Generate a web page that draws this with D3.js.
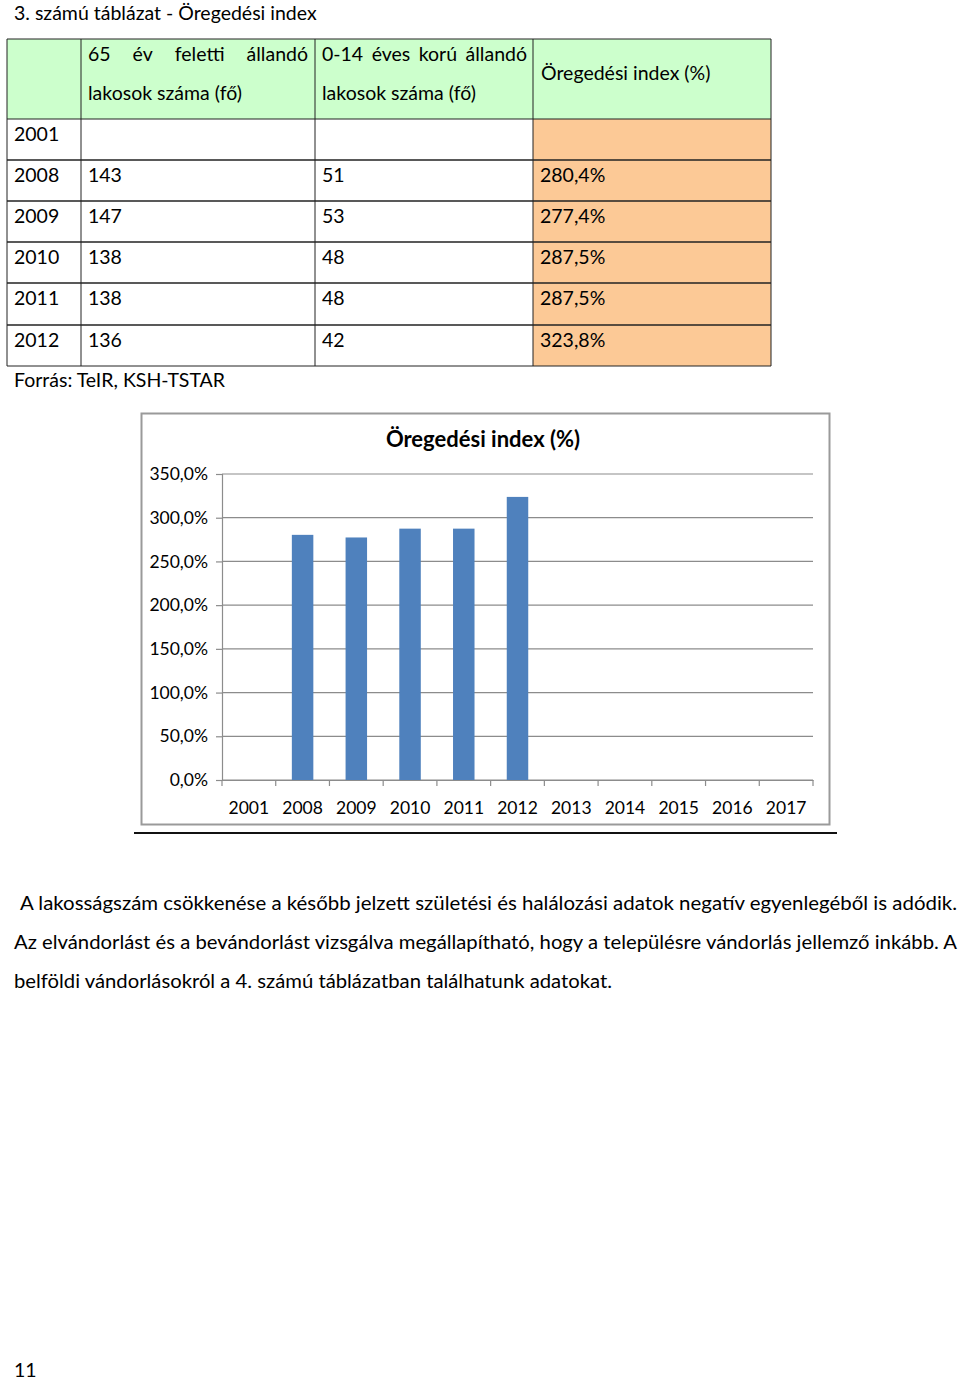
<!doctype html>
<html>
<head>
<meta charset="utf-8">
<style>
  body { margin: 0; background: #fff; }
  svg text { font-family: Lato, "Open Sans", sans-serif; fill: #000; }
</style>
<script src="https://d3js.org/d3.v7.min.js"></script>
</head>
<body>
<svg width="960" height="1381"></svg>
<script>
// table data
var tableYears = ["2001", "2008", "2009", "2010", "2011", "2012"];
var over65 = ["", "143", "147", "138", "138", "136"];
var under14 = ["", "51", "53", "48", "48", "42"];
var indexText = ["", "280,4%", "277,4%", "287,5%", "287,5%", "323,8%"];

// chart data
var chartYears = ["2001","2008","2009","2010","2011","2012","2013","2014","2015","2016","2017"];
var chartValues = [null, 280.4, 277.4, 287.5, 287.5, 323.8, null, null, null, null, null];
var yTicks = [0, 50, 100, 150, 200, 250, 300, 350];

var svg = d3.select("svg");
var fs = "19.5px";

svg.append("text").attr("x", 14).attr("y", 20).attr("font-size", fs)
   .text("3. számú táblázat - Öregedési index");

// justify words between x0 and x1
function justified(parent, str, x0, x1, yy) {
  var words = str.split(" ");
  var nodes = words.map(function(w) {
    return parent.append("text").attr("y", yy).attr("font-size", fs).text(w);
  });
  var widths = nodes.map(function(n) { return n.node().getComputedTextLength(); });
  var gap = (x1 - x0 - d3.sum(widths)) / (words.length - 1);
  var cx = x0;
  nodes.forEach(function(n, i) { n.attr("x", cx); cx += widths[i] + gap; });
}

// ---- table ----
var colX = [7, 81, 315, 533, 771];
var rowY = [39, 119, 160, 201, 242, 283, 325, 366];
var tbl = svg.append("g");

tbl.append("rect").attr("x", colX[0]).attr("y", rowY[0])
   .attr("width", colX[4] - colX[0]).attr("height", rowY[1] - rowY[0]).attr("fill", "#ccffcc");
tbl.append("rect").attr("x", colX[3]).attr("y", rowY[1])
   .attr("width", colX[4] - colX[3]).attr("height", rowY[7] - rowY[1]).attr("fill", "#fcc996");

rowY.forEach(function(y, i) {
  tbl.append("line").attr("x1", colX[0]).attr("x2", colX[4]).attr("y1", y).attr("y2", y)
     .attr("stroke", "#222").attr("stroke-width", (i > 1 && i < 7) ? 1.6 : 1);
});
colX.forEach(function(x) {
  tbl.append("line").attr("x1", x).attr("x2", x).attr("y1", rowY[0]).attr("y2", rowY[7])
     .attr("stroke", "#222").attr("stroke-width", 1);
});

justified(tbl, "65 év feletti állandó", 88, 308, 61);
tbl.append("text").attr("x", 88).attr("y", 100).attr("font-size", fs).text("lakosok száma (fő)");
justified(tbl, "0-14 éves korú állandó", 322, 527, 61);
tbl.append("text").attr("x", 322).attr("y", 100).attr("font-size", fs).text("lakosok száma (fő)");
tbl.append("text").attr("x", 541).attr("y", 80).attr("font-size", fs).text("Öregedési index (%)");

tableYears.forEach(function(yr, i) {
  var by = rowY[i + 1] + 22;
  [yr, over65[i], under14[i], indexText[i]].forEach(function(t, c) {
    tbl.append("text").attr("x", colX[c] + 7).attr("y", by).attr("font-size", fs).text(t);
  });
});

svg.append("text").attr("x", 14).attr("y", 387).attr("font-size", fs)
   .text("Forrás: TeIR, KSH-TSTAR");

// ---- chart ----
svg.append("rect").attr("x", 141.5).attr("y", 413.5).attr("width", 688).attr("height", 411)
   .attr("fill", "#fff").attr("stroke", "#9a9a9a").attr("stroke-width", 2);
svg.append("line").attr("x1", 134).attr("x2", 837).attr("y1", 833).attr("y2", 833)
   .attr("stroke", "#111").attr("stroke-width", 2);

svg.append("text").attr("x", 483).attr("y", 447).attr("text-anchor", "middle")
   .attr("font-size", "22px").attr("font-weight", "bold").text("Öregedési index (%)");

var x = d3.scaleBand().domain(chartYears).range([222, 813]).paddingInner(0.6).paddingOuter(0.3);
var y = d3.scaleLinear().domain([0, 350]).range([780, 474]);
var step = x.step();

var g = svg.append("g");

g.selectAll(".grid").data(yTicks).enter().append("line")
 .attr("x1", 222).attr("x2", 813)
 .attr("y1", function(d) { return y(d); }).attr("y2", function(d) { return y(d); })
 .attr("stroke", "#8c8c8c").attr("stroke-width", 1.2);

var yAxis = g.append("g").attr("transform", "translate(222,0)")
  .call(d3.axisLeft(y).tickValues(yTicks).tickSize(6).tickPadding(8)
     .tickFormat(function(d) { return d.toFixed(1).replace(".", ",") + "%"; }));
yAxis.selectAll("text").attr("font-size", "17.5px").attr("font-family", "Lato, sans-serif");
yAxis.selectAll("line, path").attr("stroke", "#8c8c8c").attr("stroke-width", 1.2);

g.selectAll(".bar").data(chartYears.map(function(d, i) { return { year: d, value: chartValues[i] }; })
   .filter(function(d) { return d.value !== null; }))
 .enter().append("rect")
 .attr("x", function(d) { return x(d.year); })
 .attr("width", x.bandwidth())
 .attr("y", function(d) { return y(d.value); })
 .attr("height", function(d) { return y(0) - y(d.value); })
 .attr("fill", "#4f81bd");

var xAxis = g.append("g").attr("transform", "translate(0,780)")
  .call(d3.axisBottom(x).tickSize(0).tickPadding(22));
xAxis.select(".domain").attr("stroke", "#8c8c8c").attr("stroke-width", 1.2);
xAxis.selectAll("text").attr("font-size", "17.5px").attr("font-family", "Lato, sans-serif");

var bounds = chartYears.map(function(d) { return x(d) - step * 0.3; }).concat([813]);
g.selectAll(".xtick").data(bounds).enter().append("line")
 .attr("x1", function(d) { return d; }).attr("x2", function(d) { return d; })
 .attr("y1", 780).attr("y2", 786)
 .attr("stroke", "#8c8c8c").attr("stroke-width", 1.2);

// ---- paragraph ----
var para = [
  { x: 20, y: 910, len: 937, t: "A lakosságszám csökkenése a később jelzett születési és halálozási adatok negatív egyenlegéből is adódik." },
  { x: 14, y: 949, len: 943, t: "Az elvándorlást és a bevándorlást vizsgálva megállapítható, hogy a településre vándorlás jellemző inkább. A" },
  { x: 14, y: 988, len: 598, t: "belföldi vándorlásokról a 4. számú táblázatban találhatunk adatokat." }
];
para.forEach(function(p) {
  svg.append("text").attr("x", p.x).attr("y", p.y).attr("font-size", fs)
     .attr("textLength", p.len).attr("lengthAdjust", "spacingAndGlyphs").text(p.t);
});

svg.append("text").attr("x", 14).attr("y", 1377).attr("font-size", fs).text("11");
</script>
</body>
</html>
